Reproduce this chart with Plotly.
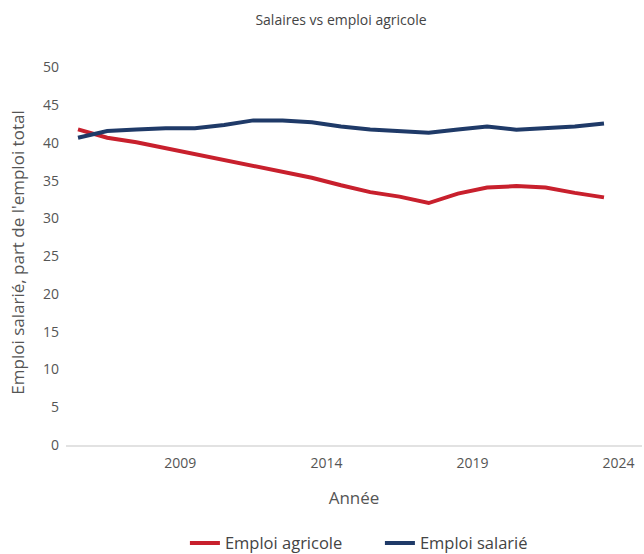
import plotly.graph_objects as go

annees = [str(a) + "-01-01" for a in range(2006, 2025)]
emploi_agricole = [41.8, 40.7, 40.1, 39.3, 38.5, 37.8, 37.0, 36.2, 35.4, 34.4,
                   33.5, 32.9, 32.05, 33.3, 34.1, 34.3, 34.1, 33.4, 32.8]
emploi_salarie = [40.7, 41.6, 41.8, 41.95, 41.95, 42.4, 43.0, 43.0, 42.75, 42.2,
                  41.8, 41.6, 41.35, 41.8, 42.2, 41.75, 42.0, 42.2, 42.6]

fig = go.Figure()
fig.add_trace(go.Scatter(x=annees, y=emploi_agricole, mode="lines", name="Emploi agricole",
                         line=dict(color="#c8202d", width=4)))
fig.add_trace(go.Scatter(x=annees, y=emploi_salarie, mode="lines", name="Emploi salarié",
                         line=dict(color="#1f3a68", width=4)))

fig.update_layout(
    width=644, height=554,
    margin=dict(l=66, r=2, t=60, b=109, autoexpand=False),
    paper_bgcolor="white", plot_bgcolor="white",
    font=dict(family="Open Sans", size=14, color="#555555"),
    title=dict(text="Salaires vs emploi agricole", x=341 / 644, xref="container", xanchor="center",
               y=1 - 20 / 554, yref="container", yanchor="middle",
               font=dict(size=14, color="#444444")),
    showlegend=True,
    legend=dict(orientation="h", x=0.545, xanchor="center", xref="paper",
                y=-0.255, yref="paper", yanchor="middle",
                font=dict(size=16.5, color="#444444"), entrywidth=150),
)
fig.update_xaxes(
    type="date", range=["2005-08-04", "2025-04-20"], automargin=False,
    tick0="2004-01-01", dtick="M60", tickformat="%Y", ticklabelmode="period",
    showgrid=False, zeroline=False, ticks="", ticklabelstandoff=4,
    showline=True, linecolor="#e2e2e2", linewidth=2,
    title=dict(text="Année", standoff=21),
)
fig.update_yaxes(
    range=[0, 51], dtick=5, showgrid=False, zeroline=False, ticks="",
    ticklabelstandoff=6, automargin=False,
    title=dict(text="Emploi salarié, part de l'emploi total", standoff=14),
)

# la page HTML ajoute une marge de 8px autour du graphique
fig.write_html("out.html", config={"displayModeBar": False},
               post_script="document.body.style.margin='0';")
